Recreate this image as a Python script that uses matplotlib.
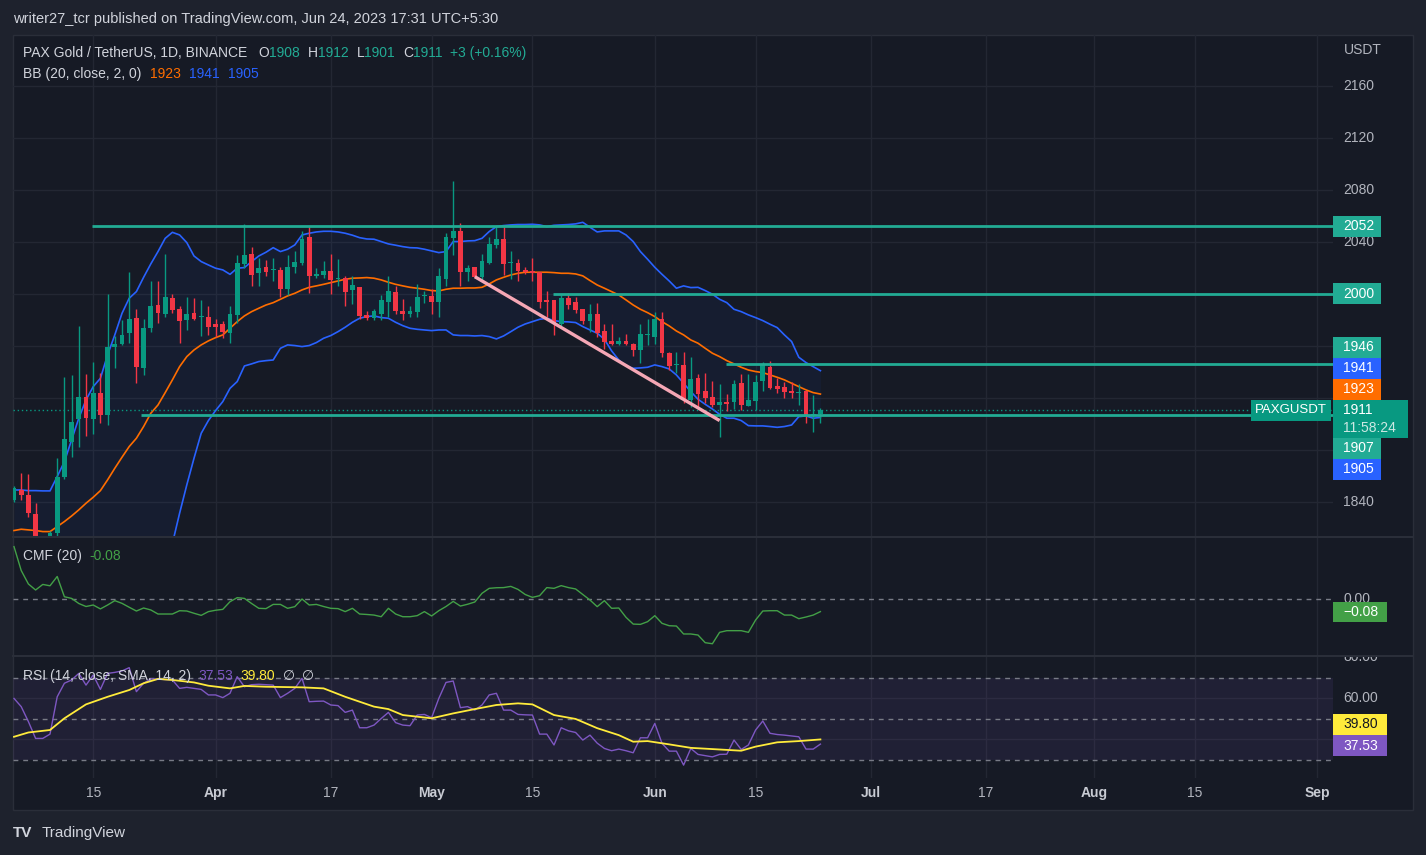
import numpy as np
import pandas as pd
import matplotlib
matplotlib.use('Agg')
import matplotlib.pyplot as plt
import matplotlib.dates as mdates
from matplotlib.patches import Rectangle
from matplotlib.lines import Line2D
from matplotlib.transforms import Bbox, blended_transform_factory

plt.rcParams['font.family'] = ['Liberation Sans', 'DejaVu Sans']

W, H = 1426, 855

# daily candles from 2023-03-04 to 2023-06-24
opens = [1841.5, 1849, 1845.4, 1831, 1812, 1800, 1816, 1859, 1886.4, 1903.6,
         1921, 1903.6, 1923.6, 1907, 1959, 1961.3, 1970.2, 1981.3, 1943.3, 1973.6,
         1991.5, 1984.6, 1996.9, 1988.2, 1980, 1985, 1982.5, 1982.5, 1977, 1977,
         1970.2, 1984, 2023, 2030.8, 2016.4, 2020.5, 2018.5, 2018.5, 2003.6, 2021,
         2024, 2043.6, 2013.8, 2014.6, 2018, 2011.3, 2012, 2003, 2005, 1984,
         1981.3, 1984.6, 1994, 2001.5, 1987.2, 1984.6, 1986, 1998.5, 1998.5, 1994,
         2011.5, 2043.3, 2048.5, 2017, 2020.5, 2013.3, 2024, 2037.7, 2042.3, 2023.6,
         2023.6, 2018.5, 2017.7, 2017, 1995.4, 1995, 1977, 1997.2, 1993.6, 1988.2,
         1979.5, 1984.6, 1971.5, 1963.8, 1961.3, 1963.8, 1961.5, 1957, 1968.5, 1967.2,
         1980.8, 1954.9, 1945.4, 1945.4, 1918.5, 1935.2, 1925, 1920.5, 1914.4, 1917,
         1917, 1931.3, 1914, 1918, 1933.3, 1944, 1929.2, 1928.2, 1925.6, 1923.6,
         1925, 1907, 1908]
highs = [1852, 1862, 1861.5, 1839, 1814, 1818, 1874, 1936.4, 1937.7, 1975.4,
         1938.5, 1948, 1939, 1999.8, 1968, 1980, 2017.2, 1988.5, 1981, 2010,
         2010, 2030.8, 2000, 1991, 1998, 1997, 1995, 1991, 1980.8, 1979,
         1991, 2030, 2053.8, 2036, 2028, 2026, 2028, 2021, 2030, 2033,
         2048.5, 2052.3, 2020, 2025, 2031, 2027, 2014, 2014, 2005, 1986.5,
         1988.5, 1999, 2014, 2006, 1996, 1991, 2007.7, 2002, 2004, 2020,
         2046.7, 2087, 2054.9, 2022, 2021, 2031, 2043.8, 2052, 2052, 2033,
         2027, 2021, 2028, 2017, 2002, 1995.4, 1999, 2000.5, 1998, 1988.2,
         1992, 1992.8, 1977, 1977, 1967, 1969, 1962, 1977, 1980.5, 1986,
         1986, 1955.5, 1955, 1955, 1951.3, 1938.5, 1939.5, 1933.3, 1930.8, 1922.8,
         1934, 1938.5, 1938.5, 1937.7, 1948, 1948.5, 1935, 1932.3, 1932, 1930.5,
         1925, 1922, 1912]
lows = [1840, 1841.5, 1828.7, 1808, 1798, 1798, 1812, 1858, 1874.9, 1882,
        1891, 1892, 1900.5, 1899.2, 1943, 1960.8, 1962.6, 1931.3, 1938, 1971,
        1978, 1982, 1985, 1962, 1972, 1980, 1967.7, 1968.5, 1967, 1966,
        1962, 1978, 2020, 2006, 2006, 2014, 2010, 1998, 1999, 2016,
        2022, 2001, 2012, 2012, 2000, 2006, 1990.8, 1992, 1981, 1980,
        1980, 1980, 1982, 1984.6, 1980, 1982, 1982, 1993, 1984.6, 1982,
        2006, 2030, 2006, 2010, 2012, 2010, 2023, 2035, 2014.6, 2011.5,
        2010, 2015, 2010, 1989, 1982.5, 1968.5, 1975, 1988.6, 1985, 1977,
        1971, 1967, 1958, 1961, 1960.5, 1960.5, 1952, 1947, 1961, 1961.5,
        1951.8, 1941.5, 1939, 1916, 1912.8, 1913, 1916, 1913, 1889.8, 1910,
        1911.5, 1911, 1913.6, 1911, 1925, 1927, 1923.6, 1920, 1919.8, 1914.6,
        1901, 1894, 1901]
closes = [1850.5, 1845, 1831.3, 1812, 1802, 1816, 1859.5, 1888.2, 1901.3, 1920.5,
          1904.4, 1923.6, 1907, 1959, 1961.5, 1968.5, 1980.8, 1944.1, 1973.6, 1990.8,
          1985, 1997.7, 1987.7, 1979.2, 1984.6, 1980.8, 1982.5, 1974.8, 1974.8, 1971,
          1984.6, 2023.6, 2030, 2014.6, 2020.3, 2017, 2018.5, 2003.6, 2020.5, 2024.4,
          2042.3, 2013.8, 2015.4, 2018, 2010.8, 2011.3, 2001.8, 2007, 1983, 1981.3,
          1987, 1995.4, 2002.3, 1987, 1984.6, 1987.2, 1998, 1998.5, 1994, 2013.8,
          2043.6, 2048.5, 2017, 2020.3, 2013.3, 2025.4, 2038.5, 2042.3, 2023, 2023.6,
          2018, 2017, 2016, 1994, 1994, 1977.5, 1996.7, 1991.5, 1987.7, 1979.5,
          1984.6, 1970.2, 1963.3, 1961.3, 1963.8, 1961.3, 1957, 1969, 1968.5, 1980.8,
          1954.9, 1944.9, 1945.4, 1918.5, 1934.6, 1923, 1919.8, 1914.6, 1917, 1915.2,
          1930.5, 1914.6, 1918.5, 1932, 1946, 1928, 1926.9, 1924.9, 1923.6, 1923.6,
          1906.5, 1907, 1911]

# Bollinger bands (20, 2)
bb_upper = [1849.2, 1849.2, 1848.7, 1848.7, 1848.5, 1848.5, 1859.5, 1871, 1887.7, 1904.4,
            1918.5, 1928.7, 1935.1, 1953.1, 1968.5, 1985.1, 1996.7, 2001.8, 2012.8, 2023.1,
            2032.6, 2042.8, 2047.4, 2045.4, 2039.5, 2029.2, 2024.9, 2022.3, 2019.8, 2018.5,
            2015.1, 2019.8, 2020.3, 2024.9, 2029.2, 2032.1, 2035.6, 2032.6, 2034.4, 2037.7,
            2045.4, 2046.7, 2047.7, 2048.2, 2048.2, 2047.7, 2046.7, 2045.2, 2043.3, 2042.3,
            2042.1, 2040.3, 2038.5, 2037.5, 2036.4, 2035.6, 2035.4, 2034.4, 2033.1, 2031.8,
            2032.6, 2040.3, 2040.3, 2040.8, 2041, 2042.8, 2048, 2051.8, 2052.6, 2053.1,
            2053.4, 2053.4, 2053.6, 2053.1, 2051.8, 2052.8, 2053.1, 2053.4, 2053.9, 2055.1,
            2051.3, 2047.7, 2048.5, 2048.5, 2048.5, 2045.4, 2040.3, 2032.6, 2026.7, 2020.5,
            2015.1, 2010, 2004.4, 2006.2, 2004.9, 2005.1, 2002.6, 1999.8, 1995.9, 1993.3,
            1988.2, 1986.4, 1983.9, 1981.8, 1979.5, 1976.7, 1974.1, 1968.5, 1963.4, 1951.3,
            1947.2, 1944.1, 1941.0]
bb_basis = [1818, 1819, 1818.5, 1818, 1817.2, 1817.2, 1821, 1824.9, 1829.2, 1833.9,
            1839, 1843.6, 1848.7, 1857, 1865.9, 1874.4, 1882.6, 1889, 1898, 1908.2,
            1914.6, 1924.1, 1933.9, 1944.1, 1951.8, 1956.9, 1960.8, 1963.9, 1966.4, 1968.5,
            1973.6, 1978.7, 1983.1, 1986.4, 1989, 1991.5, 1993.3, 1995.9, 1998.5, 2000.5,
            2003.1, 2005.1, 2006.2, 2007.4, 2008.7, 2010, 2011.3, 2012.1, 2012.3, 2012.6,
            2012.1, 2010.8, 2009, 2007.4, 2006.2, 2005.1, 2004.4, 2003.6, 2002.6, 2002.3,
            2003.6, 2004.4, 2004.4, 2004.6, 2004.6, 2005.1, 2007.7, 2010.8, 2012.8, 2014.6,
            2015.9, 2016.7, 2016.7, 2016.7, 2016.7, 2016.4, 2015.9, 2015.9, 2015.4, 2013.9,
            2010.3, 2006.9, 2004.4, 2001.8, 1999.2, 1995.4, 1991.5, 1988.2, 1985.6, 1982.6,
            1978.7, 1975.4, 1971.5, 1968.5, 1964.6, 1962.1, 1958.2, 1954.4, 1951.8, 1948.7,
            1946.2, 1943.6, 1941.5, 1940.3, 1939.5, 1937.7, 1935.9, 1933.9, 1931.3, 1928.7,
            1926.2, 1924.1, 1923.0]
bb_lower = [1788, 1787, 1788, 1789, 1786, 1786, 1783, 1778, 1772, 1763,
            1760, 1758, 1762, 1761, 1763, 1764, 1768, 1776, 1783, 1793,
            1786, 1795, 1808, 1831.3, 1853.1, 1873.6, 1892.8, 1902.6, 1910.3, 1917.2,
            1927.4, 1932.6, 1944.6, 1946.2, 1948, 1948.7, 1949.2, 1958.2, 1960.8, 1960.3,
            1959.5, 1960.3, 1962.6, 1965.9, 1968, 1971, 1974.4, 1978.2, 1981.3, 1982.6,
            1983.1, 1981.8, 1981.3, 1978.2, 1975.6, 1973.6, 1972.8, 1972.3, 1971.8, 1972.3,
            1972.3, 1968.5, 1968, 1968, 1967.7, 1968, 1967.2, 1965.4, 1967.7, 1971,
            1974.4, 1976.9, 1978.7, 1980.5, 1981.3, 1979.5, 1978.7, 1978.5, 1978, 1974.9,
            1972.3, 1969.8, 1965.1, 1956.2, 1949.2, 1944.6, 1942.8, 1943.1, 1943.6, 1945.4,
            1944.1, 1942.3, 1937.7, 1931.3, 1924.9, 1919, 1915.1, 1911.5, 1907.4, 1904.4,
            1904.4, 1902.6, 1898.7, 1898.5, 1898.5, 1898, 1897.4, 1898, 1899.2, 1905.6,
            1906.2, 1904.4, 1905.0]

cmf = [0.349, 0.19, 0.10, 0.06, 0.097, 0.088, 0.15, 0.015, 0.004, -0.03,
       -0.05, -0.04, -0.066, -0.04, -0.011, -0.029, -0.055, -0.08, -0.06, -0.073,
       -0.1, -0.1, -0.1, -0.078, -0.08, -0.095, -0.109, -0.084, -0.075, -0.069,
       -0.018, 0.009, 0.004, -0.03, -0.062, -0.064, -0.036, -0.036, -0.062, -0.051,
       0.0, -0.04, -0.036, -0.05, -0.062, -0.064, -0.084, -0.062, -0.1, -0.103,
       -0.107, -0.118, -0.062, -0.1, -0.118, -0.118, -0.111, -0.084, -0.113, -0.078,
       -0.05, -0.016, -0.047, -0.035, -0.02, 0.038, 0.071, 0.075, 0.076, 0.084,
       0.064, 0.03, 0.011, 0.022, 0.076, 0.071, 0.089, 0.076, 0.067, 0.03,
       -0.007, -0.051, -0.011, -0.062, -0.06, -0.122, -0.167, -0.169, -0.151, -0.111,
       -0.162, -0.178, -0.18, -0.233, -0.233, -0.24, -0.291, -0.298, -0.222, -0.211,
       -0.211, -0.211, -0.222, -0.14, -0.08, -0.078, -0.078, -0.107, -0.107, -0.131,
       -0.12, -0.107, -0.084]

rsi = [59.8, 55.8, 48.5, 40.3, 40.3, 42.4, 60.6, 67.2, 68.8, 72,
       66.3, 71.2, 64.2, 72, 72.5, 73.2, 74.8, 63.1, 67.2, 69.3,
       69.3, 69, 68.8, 64.7, 65.2, 64.7, 64.2, 61.5, 61.5, 60.2,
       62.3, 70.4, 65.5, 66.5, 66.7, 66.5, 66.3, 60.2, 62.3, 64.7,
       69.6, 58.2, 58.4, 58.5, 56.6, 56.3, 53.0, 54.1, 45.5, 45.5,
       46.8, 50, 53, 48, 46.8, 46.5, 51.7, 52.0, 50.4, 59.8,
       67.6, 68.3, 55.3, 55.8, 54.1, 56.6, 61.5, 62.3, 54.1, 54.1,
       52.0, 51.8, 51.7, 42.4, 42.4, 37.1, 45.5, 44, 43.2, 39.5,
       41.9, 38, 35.4, 34.3, 35.1, 34.3, 33.3, 40.6, 40.6, 47.6,
       37.9, 34.1, 34.1, 27.3, 35.4, 32.5, 31.9, 31.3, 32.5, 32.6,
       39.5, 34.9, 37.1, 44.4, 48.8, 42.8, 42.2, 41.9, 41.5, 41.1,
       35.1, 35.1, 37.53]

# RSI smoothing line, read at these day offsets
rsi_sma_days = [0, 2, 5, 7, 10, 13, 16, 18, 20, 22, 25, 27, 30, 32, 35, 40, 43, 46,
                50, 52, 54, 58, 61, 64, 67, 70, 72, 75, 78, 81, 84, 86, 88, 91, 94,
                97, 101, 103, 106, 109, 112]
rsi_sma = [41.1, 43.2, 44.4, 50.1, 56.9, 60.6, 63.9, 67.2, 69.3, 68.8, 67.6, 66.0,
           64.7, 65.9, 65.5, 65.2, 64.7, 60.6, 55.8, 54.6, 51.7, 50.1, 52.5, 54.6,
           56.6, 57.4, 56.9, 51.7, 49.8, 45.3, 41.9, 38.7, 39.0, 37.4, 35.7, 35.1,
           34.3, 36.3, 38.4, 39.0, 39.80]

# drawn levels and trend line (start as day offset)
levels = [2052, 2000, 1946, 1907]
level_start = [10.9, 74.8, 98.9, 17.7]
trend_days = [64, 98]
trend_prices = [2013.3, 1902.6]

tick_dates = ['2023-03-15', '2023-04-01', '2023-04-17', '2023-05-01', '2023-05-15',
              '2023-06-01', '2023-06-15', '2023-07-01', '2023-07-17', '2023-08-01',
              '2023-08-15', '2023-09-01']
tick_labels = ['15', 'Apr', '17', 'May', '15', 'Jun', '15', 'Jul', '17', 'Aug', '15', 'Sep']
price_ticks = [1840, 1880, 1920, 1960, 2000, 2040, 2080, 2120, 2160]
# the other scale labels are hidden behind the price tags
price_labels_shown = [1840, 2040, 2080, 2120, 2160]

BG = '#161a25'
OUTER = '#1e222d'
GRID = '#232733'
SEP = '#2a2e39'
TXT = '#b2b5be'
HEAD = '#d1d4dc'
UP = '#089981'
DOWN = '#f23645'
TEAL = '#22ab94'
BLUE = '#2962ff'
ORANGE = '#ff6d00'
PURPLE = '#7e57c2'
YELLOW = '#ffeb3b'
CMFC = '#43a047'

fig = plt.figure(figsize=(W / 100, H / 100), dpi=100)
fig.patch.set_facecolor(OUTER)


def frac(x0, y0, x1, y1):
    return [x0 / W, 1 - y1 / H, (x1 - x0) / W, (y1 - y0) / H]


fig.add_artist(Rectangle((13 / W, 1 - 810 / H), 1400 / W, 775 / H, transform=fig.transFigure,
                         facecolor=BG, edgecolor=SEP, lw=1, zorder=-10))

dates = pd.date_range('2023-03-04', periods=len(closes), freq='D')
x = mdates.date2num(dates)
tick_x = mdates.date2num(pd.to_datetime(tick_dates))
x_left = x[0] - 1 / 7.2
x_right = x[0] + 1319 / 7.2


def setup(a, ylim):
    a.set_facecolor('none')
    for s in a.spines.values():
        s.set_visible(False)
    a.set_xlim(x_left, x_right)
    a.set_ylim(*ylim)
    a.set_xticks(tick_x)
    a.tick_params(length=0, labelbottom=False, labelleft=False)
    a.grid(axis='x', color=GRID, lw=1)
    a.set_axisbelow(True)


def scale_label(a, v, s, clip=None):
    tr = blended_transform_factory(a.transAxes, a.transData)
    t = a.text(1 + 10 / 1320, v, s, transform=tr, color=TXT, fontsize=10,
               va='center', ha='left', clip_on=False)
    if clip is not None:
        t.set_clip_box(clip)
        t.set_clip_on(True)
    return t


# ---- main pane
ax = fig.add_axes(frac(13, 35, 1333, 536))
setup(ax, (1813.8, 2199.2))
ax.set_yticks(price_ticks)
ax.grid(axis='y', color=GRID, lw=1)
for p in price_labels_shown:
    scale_label(ax, p, str(p))

ax.fill_between(x, bb_lower, bb_upper, color=BLUE, alpha=0.05, lw=0, zorder=1)
ax.plot(x, bb_upper, color=BLUE, lw=1.2, zorder=2)
ax.plot(x, bb_lower, color=BLUE, lw=1.2, zorder=2)
ax.plot(x, bb_basis, color=ORANGE, lw=1.2, zorder=2)

o = np.array(opens)
c = np.array(closes)
cols = np.where(c >= o, UP, DOWN)
ax.vlines(x, lows, highs, colors=cols, lw=1, zorder=3)
ax.bar(x, np.maximum(np.abs(c - o), 0.8), bottom=np.minimum(o, c), width=0.68,
       color=cols, lw=0, zorder=4)

ax.axhline(closes[-1], color=UP, lw=1, ls=(0, (1, 2)), zorder=2)
ax.hlines(levels, x[0] + np.array(level_start), x_right, colors=TEAL, lw=2, zorder=5)
ax.plot(x[0] + np.array(trend_days), trend_prices, color='#f5a7b5', lw=2.4,
        solid_capstyle='butt', zorder=6)

# ---- CMF pane
ax_c = fig.add_axes(frac(13, 537, 1333, 655))
setup(ax_c, (-0.373, 0.413))
ax_c.set_yticks([])
ax_c.axhline(0, color='#787b86', lw=1, ls=(0, (3.5, 3.5)))
ax_c.plot(x, cmf, color=CMFC, lw=1)
scale_label(ax_c, 0, '0.00')

# ---- RSI pane
ax_r = fig.add_axes(frac(13, 657, 1333, 778))
setup(ax_r, (21.0, 80.0))
ax_r.set_yticks([40, 60])
ax_r.grid(axis='y', color=GRID, lw=1)
ax_r.axhspan(30, 70, color=PURPLE, alpha=0.1, lw=0)
for lv in [70, 50, 30]:
    ax_r.axhline(lv, color='#787b86', lw=1, ls=(0, (3.5, 3.5)))
ax_r.plot(x, rsi, color=PURPLE, lw=1)
ax_r.plot(x[0] + np.array(rsi_sma_days), rsi_sma, color=YELLOW, lw=1.3)
rsi_clip = Bbox.from_extents(1333, H - 778, 1413, H - 657)
scale_label(ax_r, 80, '80.00', clip=rsi_clip)
scale_label(ax_r, 60, '60.00')

tr_time = blended_transform_factory(ax_r.transData, ax_r.transAxes)
for tx, lab in zip(tick_x, tick_labels):
    month = not lab.isdigit()
    ax_r.text(tx, -15 / 121, lab, transform=tr_time, ha='center', va='center',
              fontsize=10, color='#c8cbd3' if month else TXT,
              fontweight='bold' if month else 'normal', clip_on=False)

# pane separators
for yy in [536.5, 656]:
    fig.add_artist(Line2D([13 / W, 1413 / W], [1 - yy / H] * 2, transform=fig.transFigure,
                          color=SEP, lw=1.5))


# ---- right scale boxes
def py(a, v):
    return H - a.transData.transform((x[0], v))[1]


def box(x0, yc, w, h, color, text, tcolor='white', center=False, size=10):
    fig.add_artist(Rectangle((x0 / W, 1 - (yc + h / 2) / H), w / W, h / H,
                             transform=fig.transFigure, facecolor=color, lw=0, zorder=5))
    if center:
        fig.text((x0 + w / 2) / W, 1 - yc / H, text, color=tcolor, fontsize=size,
                 va='center', ha='center', zorder=6)
    else:
        fig.text((x0 + 10) / W, 1 - yc / H, text, color=tcolor, fontsize=size,
                 va='center', ha='left', zorder=6)


cur = py(ax, closes[-1])
top, bottom = cur - 10, cur + 28
fig.add_artist(Rectangle((1333 / W, 1 - bottom / H), 75 / W, 38 / H, transform=fig.transFigure,
                         facecolor=UP, lw=0, zorder=5))
fig.text(1343 / W, 1 - (top + 10.5) / H, f'{closes[-1]:.0f}', color='white', fontsize=10,
         va='center', ha='left', zorder=6)
fig.text(1343 / W, 1 - (top + 28) / H, '11:58:24', color='#cde8e3', fontsize=10,
         va='center', ha='left', zorder=6)
box(1251, top + 10.5, 80, 21, UP, 'PAXGUSDT', center=True, size=9.5)

above = [(bb_basis[-1], ORANGE), (bb_upper[-1], BLUE), (levels[2], TEAL)]
edge = top
for val, col in above:
    yc = min(py(ax, val), edge - 10.5)
    box(1333, yc, 48, 21, col, f'{val:.0f}')
    edge = yc - 10.5
below = [(levels[3], TEAL), (bb_lower[-1], BLUE)]
edge = bottom
for val, col in below:
    yc = max(py(ax, val), edge + 10.5)
    box(1333, yc, 48, 21, col, f'{val:.0f}')
    edge = yc + 10.5
for val in levels[:2]:
    box(1333, py(ax, val), 48, 21, TEAL, f'{val:.0f}')

box(1333, py(ax_c, cmf[-1]) + 0.5, 54, 20, CMFC, f'{cmf[-1]:.2f}'.replace('-', '\u2212'))
box(1333, 724.5, 54, 21, YELLOW, f'{rsi_sma[-1]:.2f}', tcolor='#131722')
box(1333, 745.5, 54, 21, PURPLE, f'{rsi[-1]:.2f}')

fig.text(1344 / W, 1 - 50 / H, 'USDT', color=TXT, fontsize=10, va='center', ha='left')

# ---- header texts
renderer = fig.canvas.get_renderer()


def row(x0, y0, parts, size=10):
    xx = x0
    for s, col, gap in parts:
        t = fig.text(xx / W, 1 - y0 / H, s, color=col, fontsize=size, va='center',
                     ha='left', zorder=7)
        xx += t.get_window_extent(renderer).width + gap


row(13, 19, [('writer27_tcr published on TradingView.com, Jun 24, 2023 17:31 UTC+5:30', HEAD, 0)],
    size=10.5)
row(23, 53, [('PAX Gold / TetherUS, 1D, BINANCE', HEAD, 11), ('O', HEAD, 0), ('1908', TEAL, 8),
             ('H', HEAD, 0), ('1912', TEAL, 8), ('L', HEAD, 0), ('1901', TEAL, 8),
             ('C', HEAD, 0), ('1911', TEAL, 8), ('+3 (+0.16%)', TEAL, 0)])
row(23, 74, [('BB (20, close, 2, 0)', HEAD, 9), (f'{bb_basis[-1]:.0f}', ORANGE, 8),
             (f'{bb_upper[-1]:.0f}', BLUE, 8), (f'{bb_lower[-1]:.0f}', BLUE, 0)])
row(23, 556, [('CMF (20)', HEAD, 7), (f'{cmf[-1]:.2f}', CMFC, 0)])
row(23, 676, [('RSI (14, close, SMA, 14, 2)', HEAD, 7), (f'{rsi[-1]:.2f}', PURPLE, 8),
              (f'{rsi_sma[-1]:.2f}', YELLOW, 8), ('\u2205', HEAD, 6), ('\u2205', HEAD, 0)])

fig.text(13 / W, 1 - 833 / H, 'TV', color=HEAD, fontsize=11, fontweight='bold',
         va='center', ha='left')
fig.text(42 / W, 1 - 833 / H, 'TradingView', color=HEAD, fontsize=11, va='center', ha='left')

fig.savefig('out.png', dpi=100, facecolor=fig.get_facecolor())
